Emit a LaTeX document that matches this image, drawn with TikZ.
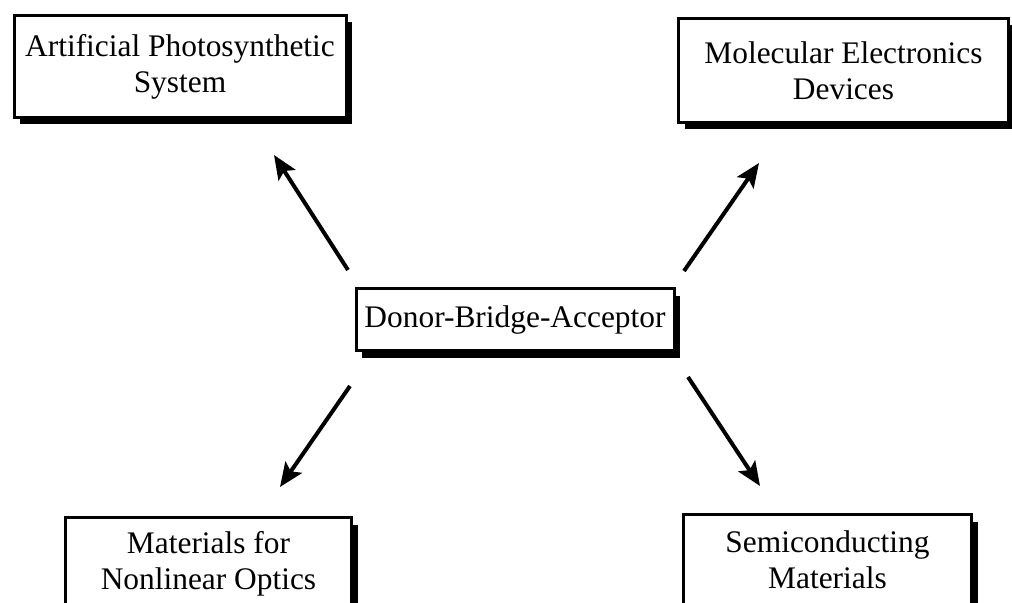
\documentclass[tikz,border=0pt]{standalone}
\usepackage{fontspec}
\setmainfont{Liberation Serif}
\usetikzlibrary{arrows.meta,shadows}
\tikzset{
  field/.style={draw, line width=1.5pt, fill=white, align=center, inner sep=0pt,
    font=\fontsize{15.7}{18}\selectfont,
    drop shadow={shadow xshift=3pt, shadow yshift=-3.5pt, opacity=1, fill=black}},
  link/.style={line width=2pt, -{Stealth[length=12pt,width=10pt,inset=2.5pt]}}
}

\begin{document}
\begin{tikzpicture}[x=0.5pt,y=-0.5pt]
    \clip (0,0) rectangle (1012,603);
    % boxes
    \node[field, minimum width=166pt, minimum height=51pt] (aps) at (180,66.5)
      {Artificial Photosynthetic\\System};
    \node[field, minimum width=165pt, minimum height=52pt] (med) at (843.5,70.5)
      {Molecular Electronics\\Devices};
    \node[field, minimum width=159pt, minimum height=31pt] (dba) at (515,320)
      {Donor-Bridge-Acceptor};
    \node[field, minimum width=143pt, minimum height=46pt] (nlo) at (208.5,564)
      {Materials for\\Nonlinear Optics};
    \node[field, minimum width=144pt, minimum height=45pt] (semi) at (827.5,560)
      {Semiconducting\\Materials};
    % arrow ends
    \coordinate (aps-tail) at (348,270);  \coordinate (aps-tip) at (274,155);
    \coordinate (med-tail) at (684,271);  \coordinate (med-tip) at (759,163);
    \coordinate (nlo-tail) at (350,386);  \coordinate (nlo-tip) at (280,487);
    \coordinate (semi-tail) at (688,377); \coordinate (semi-tip) at (760,486);
    \draw[link] (aps-tail) -- (aps-tip);
    \draw[link] (med-tail) -- (med-tip);
    \draw[link] (nlo-tail) -- (nlo-tip);
    \draw[link] (semi-tail) -- (semi-tip);
\end{tikzpicture}
\end{document}
